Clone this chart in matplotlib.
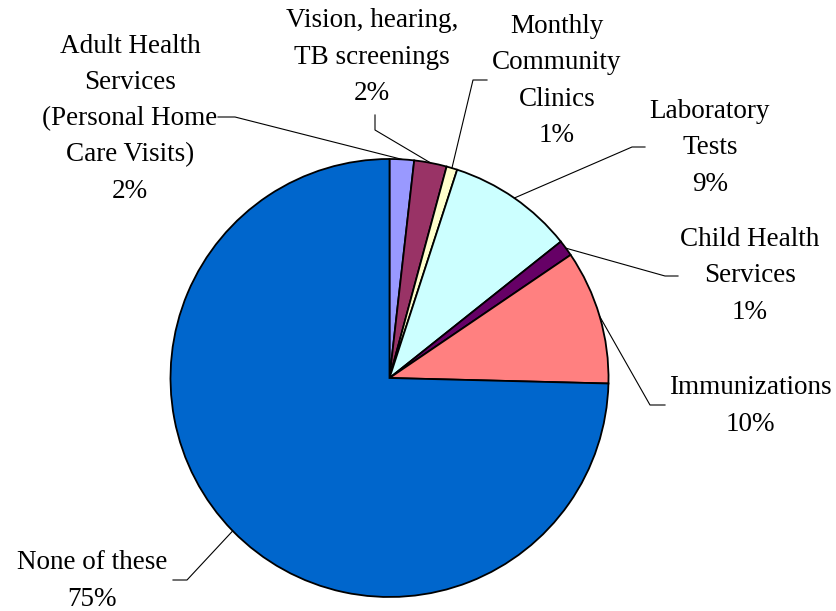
import numpy as np
import matplotlib
matplotlib.use("Agg")
import matplotlib.pyplot as plt

# service categories, shares (percent) and slice colours
categories = ["Adult Health\nServices\n(Personal Home\nCare Visits)",
              "Vision, hearing,\nTB screenings",
              "Monthly\nCommunity\nClinics",
              "Laboratory\nTests",
              "Child Health\nServices",
              "Immunizations",
              "None of these"]
shares = [1.8, 2.4, 0.8, 9.3, 1.2, 9.9, 74.6]
colors = ["#9999FF", "#993366", "#FFFFCC", "#CCFFFF", "#660066", "#FF8080", "#0066CC"]

# label block centres and leader-line stubs (pixel coords, y down)
label_pos = [(130, 119), (372, 57), (557, 81), (710, 148), (750, 276), (750, 406), (92, 581)]
stubs = [[(218, 117), (235, 117)],
         [(375, 115), (375, 130)],
         [(487, 80), (473, 80)],
         [(645, 147), (632, 147)],
         [(678, 276), (665, 276)],
         [(665, 405), (650, 405)],
         [(173, 580), (187, 580)]]

cx, cy, r = 389.5, 378, 219

plt.rcParams['font.family'] = ['Liberation Serif', 'DejaVu Serif']

fig = plt.figure(figsize=(8.37, 6.11), dpi=100)
ax = fig.add_axes([0, 0, 1, 1])

# y axis is flipped, so counterclock=True runs clockwise on screen
wedges, _ = ax.pie(shares, colors=colors, startangle=-90, counterclock=True,
                   center=(cx, cy), radius=r, frame=True,
                   wedgeprops=dict(edgecolor='black', linewidth=1.3))
ax.set_xlim(0, 837)
ax.set_ylim(611, 0)
ax.set_aspect('equal')
ax.axis('off')

for w, name, v, (tx, ty), stub in zip(wedges, categories, shares, label_pos, stubs):
    mid = np.deg2rad((w.theta1 + w.theta2) / 2)
    ax_x = cx + r * np.cos(mid)
    ax_y = cy + r * np.sin(mid)
    xs = [p[0] for p in stub] + [ax_x]
    ys = [p[1] for p in stub] + [ax_y]
    ax.plot(xs, ys, color='black', lw=0.8)
    ax.text(tx, ty, f"{name}\n{int(v + 0.5)}%", ha='center', va='center',
            multialignment='center', fontsize=19.5, linespacing=1.58)

fig.savefig("out.png", dpi=100)
